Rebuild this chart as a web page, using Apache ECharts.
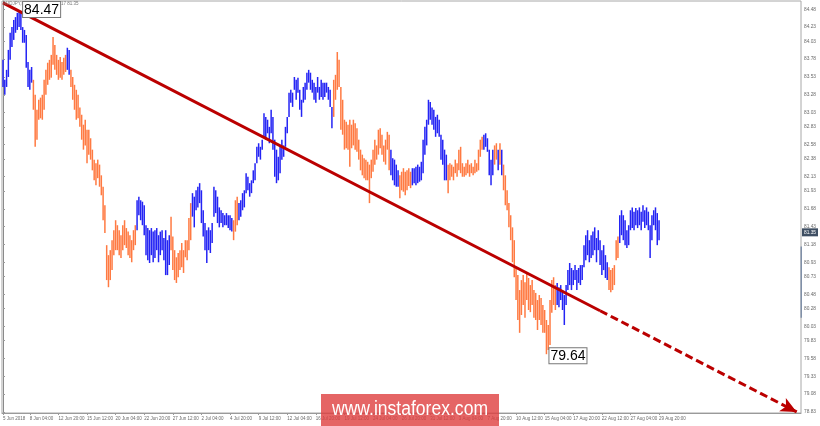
<!DOCTYPE html>
<html><head><meta charset="utf-8">
<script src="https://cdn.jsdelivr.net/npm/echarts@6/dist/echarts.min.js"></script>
<style>html,body{margin:0;padding:0;background:#fff}#c{width:820px;height:426px}</style>
</head><body><div id="c"></div>
<script>
// H4 bars: highs and lows (price), one entry per bar
const highs = [
83.77,83.49,83.63,83.91,84.15,84.23,84.33,84.37,84.43,84.47,
84.44,84.23,84.19,84.12,83.74,83.63,83.67,83.49,83.28,83.07,
83.21,83.24,83.28,83.49,83.63,83.73,83.77,83.84,84.09,83.98,
83.84,83.77,83.81,83.74,83.80,83.84,83.94,83.91,83.63,83.53,
83.42,83.35,83.28,83.10,83.00,82.86,82.93,82.79,82.79,82.67,
82.51,82.37,82.32,82.37,82.30,82.15,81.99,81.73,81.17,81.03,
81.10,81.24,81.38,81.52,81.45,81.38,81.31,81.45,81.52,81.41,
81.36,81.31,81.24,81.38,81.45,81.80,81.85,81.80,81.78,81.73,
81.45,81.41,81.38,81.41,81.36,81.38,81.41,81.31,81.36,81.38,
81.27,81.38,81.24,81.31,81.57,81.29,81.10,81.00,81.06,81.10,
81.20,81.10,81.24,81.24,81.55,81.76,81.90,81.85,81.94,81.99,
82.04,81.94,81.66,81.48,81.38,81.42,81.38,81.48,81.99,81.94,
81.85,81.70,81.66,81.62,81.59,81.62,81.59,81.59,81.55,81.52,
81.80,81.85,81.76,81.80,81.90,81.94,82.18,82.13,82.04,82.08,
82.22,82.32,82.55,82.60,82.55,82.65,83.02,82.97,82.93,82.83,
83.07,82.97,82.65,82.51,82.41,82.55,82.65,82.57,82.83,82.97,
83.31,83.35,83.31,83.53,83.49,83.52,83.35,83.21,83.39,83.45,
83.59,83.63,83.59,83.49,83.45,83.39,83.53,83.39,83.49,83.45,
83.45,83.45,83.39,83.35,83.11,83.49,83.56,83.88,83.77,83.39,
83.21,82.93,82.90,82.86,82.93,82.86,82.93,82.88,82.81,82.65,
82.51,82.44,82.39,82.37,82.34,82.30,82.37,82.51,82.65,82.57,
82.79,82.81,82.72,82.57,82.65,82.76,82.72,82.51,82.39,82.37,
82.30,82.22,82.15,82.20,82.25,82.20,82.22,82.25,82.20,82.25,
82.25,82.27,82.30,82.27,82.34,82.65,82.83,82.93,83.21,83.18,
83.10,83.07,82.97,83.00,82.93,82.72,82.65,82.51,82.44,82.30,
82.32,82.30,82.27,82.37,82.32,82.51,82.55,82.32,82.27,82.32,
82.37,82.30,82.32,82.27,82.37,82.32,82.51,82.65,82.69,82.72,
82.74,82.67,82.51,82.37,82.51,82.57,82.60,82.51,82.60,82.51,
82.30,82.15,81.94,81.76,81.59,81.42,81.24,80.86,80.75,80.54,
80.68,80.75,80.65,80.78,80.71,80.61,80.68,80.54,80.50,80.40,
80.47,80.43,80.33,80.26,80.12,80.05,80.40,80.68,80.72,80.61,
80.64,80.58,80.61,80.54,80.47,80.61,80.82,80.92,80.85,80.82,
80.89,80.82,80.85,80.89,80.89,81.17,81.31,81.38,81.24,81.31,
81.36,81.42,81.27,81.38,81.24,81.10,81.17,81.03,80.93,80.86,
80.82,80.85,80.89,81.24,81.29,81.59,81.66,81.59,81.52,81.38,
81.45,81.66,81.70,81.64,81.69,81.66,81.70,81.64,81.73,81.66,
81.70,81.64,81.45,81.59,81.66,81.70,81.62,81.52
];
const lows = [
83.39,83.28,83.39,83.53,83.77,83.95,84.05,84.15,84.19,84.23,
84.19,84.01,84.01,83.66,83.39,83.35,83.45,83.07,82.55,82.65,
82.93,82.95,82.93,83.07,83.28,83.42,83.49,83.52,83.70,83.63,
83.56,83.49,83.52,83.49,83.56,83.60,83.63,83.56,83.39,83.21,
83.07,82.93,82.95,82.83,82.65,82.51,82.57,82.32,82.44,82.37,
82.22,82.08,82.01,82.11,81.99,81.87,81.52,81.34,80.68,80.58,
80.68,80.82,81.03,81.10,81.10,81.03,80.99,81.10,81.17,81.13,
81.03,80.99,80.93,81.10,81.17,81.38,81.59,81.52,81.45,81.31,
81.03,80.96,80.92,81.03,80.93,80.99,81.10,80.93,81.03,81.10,
80.96,80.75,80.75,80.89,81.10,80.82,80.68,80.64,80.72,80.82,
80.86,80.78,81.00,80.96,81.10,81.24,81.57,81.42,81.66,81.70,
81.76,81.48,81.29,81.10,80.92,81.10,81.06,81.20,81.57,81.62,
81.48,81.42,81.48,81.42,81.45,81.45,81.41,81.38,81.36,81.24,
81.36,81.45,81.52,81.57,81.66,81.70,81.90,81.94,81.85,81.90,
82.04,82.08,82.32,82.41,82.37,82.51,82.69,82.65,82.74,82.60,
82.74,82.51,82.13,82.04,82.08,82.18,82.37,82.41,82.55,82.74,
82.97,83.17,83.11,83.35,83.21,83.31,83.07,82.97,83.17,83.21,
83.35,83.45,83.35,83.31,83.21,83.17,83.31,83.21,83.25,83.21,
83.25,83.31,83.21,83.11,82.81,82.97,83.21,83.35,83.39,82.79,
82.72,82.51,82.53,82.51,82.27,82.53,82.57,82.51,82.48,82.37,
82.22,82.15,82.11,82.08,82.08,81.76,82.11,82.20,82.30,82.37,
82.44,82.53,82.44,82.34,82.30,82.51,82.22,82.15,82.08,82.01,
81.99,81.99,81.83,81.94,81.92,81.87,81.94,82.00,81.97,82.01,
82.04,82.01,82.04,82.06,82.08,82.18,82.44,82.57,82.86,82.93,
82.86,82.79,82.69,82.74,82.69,82.37,82.30,82.08,82.08,81.90,
82.08,82.13,82.08,82.18,82.13,82.22,82.18,82.13,82.13,82.15,
82.18,82.13,82.18,82.15,82.18,82.20,82.22,82.41,82.51,82.51,
82.55,82.48,82.15,82.01,82.15,82.30,82.37,82.22,82.30,82.15,
81.94,81.73,81.66,81.42,81.24,80.93,80.72,80.40,80.12,79.94,
80.19,80.33,80.15,80.40,80.26,80.23,80.33,80.15,80.12,79.98,
80.12,80.05,79.94,79.94,79.64,79.70,79.77,80.22,80.33,80.26,
80.33,80.30,80.40,80.26,80.05,80.33,80.54,80.61,80.54,80.61,
80.68,80.54,80.64,80.61,80.68,80.86,80.96,81.03,80.93,80.99,
81.03,81.10,80.93,81.10,80.89,80.75,80.82,80.71,80.68,80.54,
80.51,80.54,80.61,80.96,80.99,81.20,81.31,81.24,81.17,81.13,
81.17,81.38,81.41,81.38,81.45,81.41,81.45,81.38,81.50,81.41,
81.45,81.38,80.99,81.24,81.45,81.38,81.17,81.24
];
// wave colouring: [first bar index, direction]
const colorRuns = [[0,'up'],[17,'down'],[36,'up'],[38,'down'],[75,'up'],[94,'down'],[106,'up'],[129,'down'],[132,'up'],[185,'down'],[217,'up'],[222,'down'],[229,'up'],[249,'down'],[269,'up'],[275,'down'],[277,'up'],[278,'down'],[279,'up'],[280,'down'],[310,'up'],[339,'down'],[345,'up']];
const priceTicks = [84.48,84.23,84.03,83.78,83.53,83.28,83.03,82.83,82.58,82.38,82.13,81.93,81.68,81.43,81.18,80.93,80.73,80.48,80.28,80.03,79.83,79.58,79.33,79.08,78.83];
const timeLabels = ['5 Jun 2018','8 Jun 04:00','12 Jun 20:00','15 Jun 12:00','20 Jun 04:00','22 Jun 20:00','27 Jun 12:00','2 Jul 04:00','4 Jul 20:00','9 Jul 12:00','12 Jul 04:00','16 Jul 20:00','19 Jul 12:00','24 Jul 04:00','26 Jul 20:00','31 Jul 12:00','3 Aug 04:00','7 Aug 20:00','10 Aug 12:00','15 Aug 04:00','17 Aug 20:00','22 Aug 12:00','27 Aug 04:00','29 Aug 20:00'];
const timeBars = [0,15,31,47,63,79,95,111,127,143,159,175,191,207,223,239,255,271,287,303,319,335,351,367];
const trendSolid = [[0,84.57],[334,80.25]];
const trendDashed = [[334,80.25],[444,78.83]];
const lastPrice = 81.35;
const axisRange = [81.15, 80.15];
const peakMark = [9,84.47,'84.47'];
const lowMark = [304,79.64,'79.64'];
const header = 'AUDJPY,H4  81.34 81.36 81.17 81.35';
const watermark = 'www.instaforex.com';

const COLORS = {up:'#2424f4', down:'#ff7a42'};
const barColor = [];
for (let r = 0; r < colorRuns.length; r++) {
  const end = r + 1 < colorRuns.length ? colorRuns[r+1][0] : highs.length;
  for (let i = colorRuns[r][0]; i < end; i++) barColor[i] = COLORS[colorRuns[r][1]];
}
const barData = highs.map((h, i) => [i, lows[i], h]);

const chart = echarts.init(document.getElementById('c'), null, {renderer:'canvas'});
const RED = '#bb0000';
chart.setOption({
  animation:false,
  backgroundColor:'#ffffff',
  grid:{left:1, right:19, top:1, bottom:13, show:true, borderColor:'#a8a8a8', borderWidth:1},
  xAxis:{type:'value', min:-0.56, max:446.4, splitLine:{show:false},
    axisLine:{show:true, lineStyle:{color:'#9a9a9a', width:1}},
    axisTick:{show:true, customValues:timeBars, length:2, lineStyle:{color:'#9a9a9a'}},
    axisLabel:{customValues:timeBars, align:'left', margin:3, fontSize:4.5, color:'#6a6a6a', fontFamily:'Liberation Sans',
      formatter:v => { const k = timeBars.indexOf(Math.round(v)); return k >= 0 ? timeLabels[k] : ''; }}},
  yAxis:{type:'value', position:'right', min:78.815, max:84.596, splitLine:{show:false}, scale:true,
    axisLine:{show:true, lineStyle:{color:'#8a8a8a', width:1}},
    axisTick:{show:true, customValues:priceTicks, length:2, lineStyle:{color:'#9a9a9a'}},
    axisLabel:{customValues:priceTicks, margin:3, fontSize:4.8, color:'#6a6a6a', fontFamily:'Liberation Sans',
      formatter:v => v.toFixed(2)}},
  series:[{
    type:'custom', coordinateSystem:'cartesian2d', clip:true,
    encode:{x:0, y:[1,2]},
    data:barData,
    renderItem:(params, api) => {
      const i = api.value(0);
      const a = api.coord([i, api.value(1)]);
      const b = api.coord([i, api.value(2)]);
      const x = a[0];
      return {type:'line', shape:{x1:x, y1:a[1], x2:x, y2:b[1]}, style:{stroke:barColor[i], lineWidth:1.5}};
    },
    markLine:{silent:true, animation:false, symbol:['none','none'],
      label:{show:false},
      data:[
        [{coord:trendSolid[0], lineStyle:{color:RED, width:3, type:'solid'}}, {coord:trendSolid[1]}],
        [{coord:trendDashed[0], symbol:'none', lineStyle:{color:RED, width:3, type:[8,4]}}, {coord:trendDashed[1], symbol:'arrow', symbolSize:[11,16]}]
      ]}
  }]
});

function place() {
  const pk = chart.convertToPixel({gridIndex:0}, [peakMark[0], peakMark[1]]);
  const lw = chart.convertToPixel({gridIndex:0}, [lowMark[0], lowMark[1]]);
  const lp = chart.convertToPixel({gridIndex:0}, [0, lastPrice]);
  const r1 = chart.convertToPixel({gridIndex:0}, [0, axisRange[0]]);
  const r2 = chart.convertToPixel({gridIndex:0}, [0, axisRange[1]]);
  const boxStyle = {font:'14px "Liberation Sans", Arial, sans-serif', fill:'#000', backgroundColor:'#fff', borderColor:'#777', borderWidth:1, padding:[1,1,0,1]};
  chart.setOption({graphic:[
    {type:'text', left:3, top:1, z:10, style:{text:header, font:'4.5px "Liberation Sans", sans-serif', fill:'#777'}},
    {type:'text', x:pk[0]+4, y:pk[1]-8, z:20, style:Object.assign({text:peakMark[2]}, boxStyle)},
    {type:'text', x:lw[0]+3, y:lw[1]-6, z:20, style:Object.assign({text:lowMark[2]}, boxStyle)},
    {type:'rect', x:800.5, y:r1[1], z:20, shape:{width:1.5, height:r2[1]-r1[1]}, style:{fill:'#8090a8'}},
    {type:'rect', x:802, y:lp[1]-4, z:20, shape:{width:16, height:8}, style:{fill:'#3f4f63'}},
    {type:'text', x:804, y:lp[1]-2.5, z:21, style:{text:lastPrice.toFixed(2), font:'4.8px "Liberation Sans", sans-serif', fill:'#fff'}},
    {type:'rect', x:321, y:394, z:30, shape:{width:178, height:32}, style:{fill:'rgba(222,62,62,0.8)'}},
    {type:'text', x:410, y:410, z:31, scaleX:0.9, originX:0, originY:0, style:{text:watermark, font:'19.5px "Liberation Sans", Arial, sans-serif', fill:'#fff', align:'center', verticalAlign:'middle'}}
  ]});
}
place();
</script></body></html>
